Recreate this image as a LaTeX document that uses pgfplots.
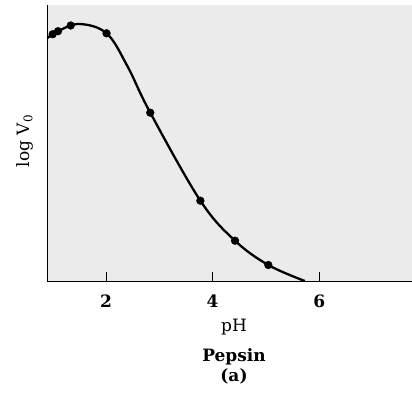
\documentclass[border=0pt]{standalone}
\usepackage{pgfplots}
\pgfplotsset{compat=1.18}
\usepackage{fontspec}
\setmainfont{DejaVu Serif}
\definecolor{bggray}{HTML}{EBEBEB}
\begin{document}
\begin{tikzpicture}[x=1pt,y=1pt]
\path[use as bounding box] (-47,-115) rectangle (365,281);
\begin{axis}[
  scale only axis, width=365pt, height=276pt,
  at={(0,0)}, anchor=south west,
  xmin=0.893, xmax=7.74, ymin=0, ymax=276,
  axis lines=left, axis line style={-, line width=0.8pt},
  axis background/.style={fill=bggray, draw=none},
  xtick={2,4,6}, ytick=\empty,
  xtick align=inside, major tick length=9pt,
  tick style={line width=0.6pt, black},
  /pgf/number format/assume math mode=true,
  xticklabel style={font=\fontsize{17}{20}\selectfont\bfseries, anchor=north, inner sep=0pt, yshift=-14pt},
  clip=true,
]
\addplot[line width=2.3pt, black, smooth, tension=0.6] coordinates {
 (0.893,242.7) (1.1,249.8) (1.5,257) (2.01,247.7) (2.4,215)
 (2.83,168.3) (3.77,80.3) (4.42,40.3) (5.045,16) (5.73,0)
};
\addplot[only marks, mark=*, mark size=3.9pt, black] coordinates {
 (1.0,246.8) (1.1,249.8) (1.338,255.5) (2.01,247.7) (2.83,168.3) (3.77,80.3) (4.42,40.3) (5.045,16)
};
\end{axis}
\node[anchor=base, font=\fontsize{17}{20}\selectfont] at (187,-50.7) {pH};
\node[anchor=base, font=\fontsize{17}{20}\selectfont\bfseries] at (187,-80) {Pepsin};
\node[anchor=base, font=\fontsize{17}{20}\selectfont\bfseries] at (187,-100.7) {(a)};
\node[rotate=90, anchor=center, font=\fontsize{17}{20}\selectfont] at (-22,140) {log V\textsubscript{0}};
\end{tikzpicture}
\end{document}
